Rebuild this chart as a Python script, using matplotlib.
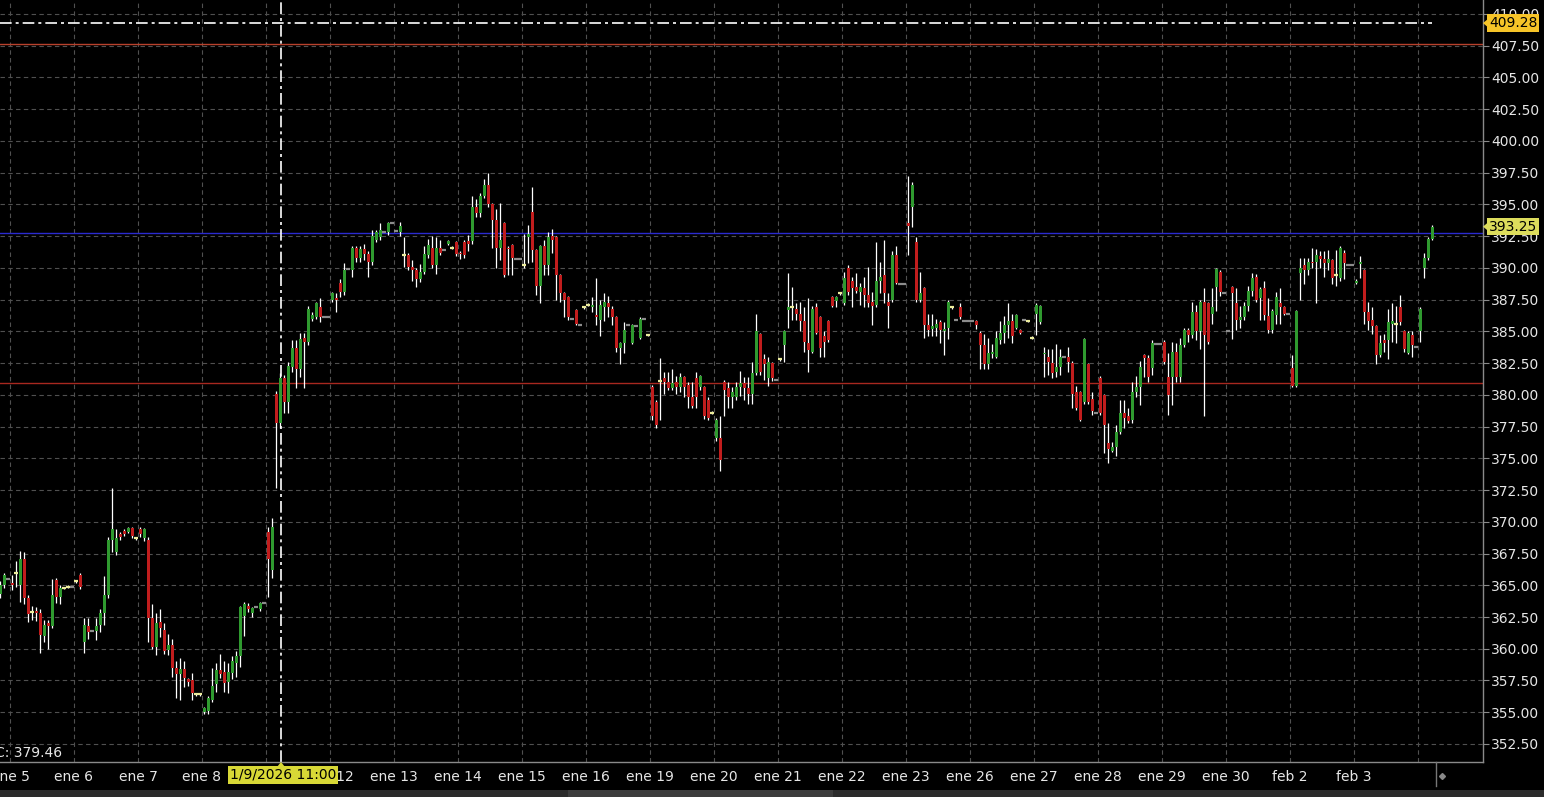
import numpy as np
import matplotlib
matplotlib.use("Agg")
import matplotlib.pyplot as plt
from matplotlib.patches import Polygon, Rectangle
from matplotlib.lines import Line2D

W, H = 1544, 797

# ------------------------------
# barre da 30 min (3 del giorno prima, 16 per giorno, 4 del 4 feb)
# ------------------------------
opens = [
    364.3, 365.0, 365.5,
    365.2, 366.0, 365.0, 367.1, 364.0, 362.9, 363.0, 362.8, 361.0, 362.0, 361.8, 365.4, 364.1, 364.8, 364.9, 364.9,
    365.3, 365.8, 360.5, 361.8, 361.4, 361.4, 361.9, 362.8, 364.2, 368.6, 367.6, 369.0, 369.3, 369.2, 369.5, 368.7,
    369.4, 368.7, 368.6, 362.4, 360.1, 362.1, 361.5, 359.9, 360.3, 358.5, 358.0, 358.4, 357.6, 357.5, 356.4, 356.4,
    355.0, 355.1, 356.0, 357.2, 358.3, 358.2, 357.4, 358.1, 358.9, 359.4, 362.6, 363.4, 362.8, 363.3, 363.1, 363.6,
    369.2, 366.2, 380.1, 377.8, 381.3, 379.4, 382.2, 383.7, 382.0, 384.5, 384.2, 386.0, 386.1, 386.9, 386.1, 386.1,
    387.5, 387.6, 388.8, 388.1, 389.9, 389.8, 391.6, 390.8, 391.5, 391.1, 390.5, 392.2, 392.4, 392.8, 392.8, 393.5,
    392.9, 392.8, 391.0, 391.0, 390.1, 389.8, 389.1, 389.7, 391.0, 391.6, 390.2, 391.6, 391.4, 391.9, 391.6, 392.0,
    391.2, 392.0, 392.1, 392.1, 394.8, 394.3, 395.7, 396.5, 395.0, 393.8, 391.6, 393.5, 391.6, 391.8, 390.7, 390.7,
    390.2, 392.4, 394.4, 391.4, 388.6, 391.7, 390.2, 392.5, 392.4, 389.4, 388.0, 387.7, 386.0, 386.7, 385.5, 386.9,
    387.1, 386.9, 386.3, 385.9, 386.9, 387.2, 386.8, 386.1, 383.7, 384.1, 385.5, 384.1, 385.4, 384.5, 386.0, 384.7,
    380.6, 379.4, 381.1, 381.3, 381.0, 380.5, 381.0, 380.6, 381.4, 380.8, 379.8, 381.3, 380.6, 380.6, 379.6, 378.6,
    376.6, 376.6, 381.0, 380.5, 379.8, 379.8, 380.6, 380.9, 380.5, 380.1, 381.7, 384.8, 382.8, 381.3, 382.5, 381.2,
    382.8, 383.9, 386.7, 386.9, 386.8, 386.4, 385.8, 384.1, 383.4, 386.9, 386.1, 384.6, 385.8, 387.7, 387.4, 388.0,
    387.2, 390.0, 389.0, 388.5, 388.1, 388.4, 387.9, 387.3, 387.1, 389.0, 389.4, 387.3, 387.5, 391.0, 388.7, 388.7,
    393.5, 394.8, 392.0, 387.5, 388.4, 385.5, 385.2, 385.3, 385.7, 385.0, 385.3, 386.9, 385.9, 386.9, 385.8, 385.8,
    385.8, 385.8, 384.9, 383.9, 382.4, 383.2, 383.0, 384.3, 384.9, 385.5, 385.8, 385.3, 385.1, 385.9, 385.8, 384.5,
    386.4, 385.7, 383.2, 383.0, 382.5, 381.8, 382.2, 383.0, 383.0, 382.5, 380.2, 380.2, 379.4, 382.4, 379.7, 378.6,
    381.3, 380.0, 376.2, 375.6, 375.9, 377.1, 378.6, 378.3, 378.0, 380.2, 380.6, 383.1, 382.9, 382.1, 384.0, 384.0,
    384.2, 381.4, 381.4, 383.4, 381.4, 383.9, 385.1, 384.7, 386.5, 385.0, 387.3, 387.2, 386.4, 388.5, 389.7, 388.0,
    385.0, 388.5, 387.2, 385.9, 386.1, 387.0, 388.2, 389.3, 387.6, 388.4, 386.2, 385.1, 386.3, 387.2, 386.9, 386.4,
    382.1, 380.7, 389.6, 390.2, 389.8, 390.5, 390.5, 390.9, 390.7, 390.4, 390.6, 389.4, 389.2, 391.2, 390.2, 390.2,
    388.8, 390.3, 389.8, 386.5, 385.9, 385.4, 383.1, 384.3, 384.3, 385.6, 385.6, 386.9, 385.0, 383.3, 384.7, 383.8,
    385.0, 390.0, 390.8, 392.3,
]
highs = [
    365.3, 366.0, 365.5,
    365.8, 366.9, 367.7, 367.6, 364.2, 363.4, 363.3, 363.1, 362.3, 362.3, 365.5, 365.6, 365.0, 364.9, 365.0, 364.9,
    365.4, 366.0, 362.4, 362.4, 361.4, 362.4, 363.1, 365.7, 368.8, 372.7, 369.4, 369.2, 369.4, 369.6, 369.6, 368.8,
    369.6, 369.5, 368.8, 363.5, 362.8, 363.1, 362.0, 361.2, 360.8, 359.0, 359.3, 359.0, 357.7, 358.1, 356.5, 356.5,
    355.4, 356.3, 358.5, 358.9, 359.6, 359.0, 358.9, 359.4, 359.8, 363.4, 363.7, 363.6, 363.3, 363.3, 363.7, 363.6,
    369.6, 370.3, 380.3, 381.7, 381.6, 382.6, 384.3, 384.3, 384.9, 384.9, 387.0, 386.5, 387.3, 387.6, 386.1, 386.1,
    388.1, 388.0, 389.1, 390.4, 389.9, 391.7, 391.7, 391.7, 391.9, 391.3, 393.0, 393.0, 393.5, 392.8, 393.6, 393.5,
    392.9, 393.6, 392.4, 391.2, 390.6, 390.0, 390.3, 391.7, 392.3, 392.5, 392.4, 392.2, 391.4, 392.2, 391.7, 392.1,
    391.3, 392.2, 392.6, 395.7, 395.4, 395.9, 397.0, 397.5, 395.1, 394.6, 395.1, 393.6, 391.7, 391.9, 390.7, 390.7,
    392.7, 393.4, 396.4, 391.5, 391.8, 392.2, 392.8, 393.1, 392.5, 389.5, 388.1, 387.8, 386.0, 386.8, 385.5, 387.0,
    387.2, 387.7, 389.2, 387.5, 388.0, 387.8, 387.0, 386.2, 384.2, 385.7, 385.5, 385.6, 385.4, 386.1, 386.0, 384.8,
    380.8, 379.6, 382.9, 381.8, 381.8, 382.0, 381.5, 381.7, 381.5, 381.0, 381.0, 381.8, 381.6, 380.7, 379.8, 378.7,
    378.2, 378.3, 381.2, 381.0, 380.6, 381.0, 381.9, 381.4, 381.4, 382.6, 386.4, 384.9, 383.2, 383.0, 382.6, 381.2,
    382.9, 385.1, 389.6, 388.5, 387.2, 387.3, 386.9, 387.6, 387.0, 387.2, 386.2, 385.0, 385.9, 387.8, 387.8, 388.1,
    389.7, 390.2, 389.3, 389.6, 388.8, 389.3, 390.1, 388.1, 392.0, 390.5, 392.2, 388.0, 391.3, 391.7, 388.7, 388.7,
    397.2, 396.8, 392.4, 389.7, 388.5, 386.4, 386.4, 386.0, 385.9, 385.7, 387.5, 387.0, 385.9, 387.2, 385.8, 385.8,
    385.8, 385.9, 385.0, 384.8, 384.5, 384.0, 385.0, 385.8, 386.2, 387.2, 386.4, 386.4, 385.2, 385.9, 385.9, 384.6,
    387.2, 387.1, 383.8, 383.6, 383.6, 384.0, 383.6, 383.0, 383.8, 382.7, 380.7, 380.3, 384.5, 382.5, 380.2, 378.6,
    381.5, 380.1, 377.8, 376.3, 377.6, 379.6, 379.6, 379.0, 381.0, 381.5, 382.7, 383.2, 383.1, 384.3, 384.0, 384.0,
    384.3, 383.3, 384.2, 384.1, 384.5, 385.3, 385.3, 387.3, 387.1, 387.5, 388.4, 387.3, 388.4, 390.0, 389.8, 388.0,
    385.0, 388.6, 388.4, 387.0, 387.3, 388.6, 389.6, 389.5, 388.5, 389.0, 387.6, 386.8, 388.1, 388.4, 387.0, 386.4,
    383.1, 386.7, 390.8, 390.8, 390.8, 391.6, 391.5, 391.3, 391.3, 391.4, 390.7, 391.4, 391.7, 391.4, 390.2, 390.2,
    389.1, 390.9, 389.9, 387.3, 386.9, 385.5, 384.7, 384.8, 386.8, 387.2, 387.0, 387.9, 385.1, 385.0, 385.0, 383.8,
    386.9, 391.2, 392.4, 393.4,
]
lows = [
    364.0, 364.8, 365.5,
    364.6, 364.9, 363.7, 363.5, 362.1, 362.3, 362.2, 359.7, 360.5, 360.0, 361.6, 363.6, 363.5, 364.7, 364.8, 364.9,
    365.2, 364.7, 359.7, 360.8, 361.4, 360.7, 361.3, 361.9, 364.0, 367.6, 367.4, 368.6, 368.9, 369.1, 368.7, 368.6,
    368.8, 368.5, 360.5, 360.0, 359.5, 360.9, 359.6, 359.5, 357.8, 356.1, 356.0, 357.0, 357.1, 356.0, 356.3, 356.3,
    354.9, 354.9, 355.8, 356.6, 357.7, 356.6, 356.5, 357.6, 357.8, 358.6, 361.0, 362.9, 362.5, 363.3, 363.0, 363.6,
    364.1, 365.6, 372.7, 377.4, 378.6, 378.6, 381.8, 380.5, 381.4, 380.5, 383.9, 385.8, 386.0, 385.7, 386.1, 386.1,
    387.3, 386.5, 387.7, 387.9, 389.9, 389.3, 390.5, 390.5, 390.6, 389.3, 390.2, 392.0, 392.2, 392.8, 392.6, 393.5,
    392.9, 392.5, 390.1, 389.8, 389.0, 388.5, 388.9, 389.5, 390.8, 390.0, 389.5, 391.0, 391.4, 391.8, 391.5, 390.9,
    390.7, 390.8, 391.3, 391.9, 394.0, 394.0, 395.5, 394.8, 391.6, 390.0, 390.6, 389.3, 389.4, 389.4, 390.7, 390.7,
    390.0, 390.4, 390.5, 387.9, 387.2, 389.4, 389.4, 391.2, 387.5, 387.3, 386.1, 385.9, 386.0, 385.5, 385.5, 386.8,
    387.0, 386.5, 385.5, 384.6, 385.8, 386.1, 385.5, 383.4, 382.4, 383.3, 385.5, 384.0, 385.4, 384.4, 386.0, 384.6,
    378.0, 377.4, 378.0, 380.1, 380.4, 380.4, 380.1, 380.2, 379.8, 379.0, 379.0, 379.0, 380.4, 378.1, 378.0, 378.5,
    376.4, 374.0, 378.3, 379.0, 379.0, 379.6, 379.9, 379.6, 379.3, 379.3, 381.6, 381.6, 381.2, 380.7, 381.1, 381.2,
    382.7, 382.6, 385.3, 385.9, 385.9, 385.0, 383.4, 381.8, 383.3, 384.8, 383.0, 383.0, 384.2, 386.9, 386.9, 387.9,
    387.1, 387.9, 386.9, 388.0, 387.1, 386.9, 386.9, 385.5, 386.9, 388.0, 387.2, 385.3, 387.3, 388.7, 388.7, 388.7,
    391.0, 393.2, 387.3, 387.3, 384.5, 384.6, 384.6, 384.6, 384.1, 383.1, 384.4, 386.8, 385.9, 386.0, 385.8, 385.8,
    385.8, 385.2, 382.0, 382.0, 382.0, 382.9, 382.9, 384.0, 384.1, 384.5, 384.1, 385.2, 384.8, 385.9, 385.7, 384.4,
    384.7, 385.6, 381.4, 381.6, 381.3, 381.4, 381.6, 383.0, 381.8, 379.0, 378.8, 377.9, 379.3, 379.3, 378.4, 378.6,
    378.4, 375.4, 374.6, 375.5, 375.2, 376.9, 377.4, 377.8, 377.8, 379.8, 379.2, 381.4, 381.0, 381.6, 384.0, 384.0,
    382.4, 378.4, 379.2, 381.0, 381.0, 383.8, 384.2, 384.5, 384.3, 383.6, 378.3, 384.0, 385.6, 386.6, 387.8, 388.0,
    385.0, 384.4, 385.1, 385.3, 385.9, 386.6, 387.8, 387.3, 385.9, 385.9, 384.9, 384.9, 385.6, 385.6, 386.3, 386.4,
    380.6, 380.6, 387.5, 388.7, 389.4, 390.0, 387.2, 390.0, 389.3, 389.8, 388.7, 388.6, 389.0, 389.1, 390.2, 390.2,
    388.7, 389.2, 385.6, 385.1, 384.8, 382.4, 383.0, 383.4, 382.8, 384.2, 384.1, 385.5, 383.4, 383.2, 383.0, 383.8,
    384.2, 389.2, 390.6, 392.2,
]
closes = [
    365.0, 365.8, 365.5,
    365.0, 366.0, 367.1, 364.0, 362.7, 362.9, 362.8, 361.1, 361.9, 361.8, 364.2, 364.1, 364.8, 364.8, 364.9, 364.9,
    365.3, 364.9, 361.9, 361.3, 361.4, 361.8, 362.8, 364.2, 368.6, 369.4, 368.7, 368.8, 369.0, 369.5, 368.9, 368.7,
    369.0, 369.4, 362.4, 360.1, 362.0, 361.6, 359.8, 360.3, 358.5, 358.0, 358.4, 357.7, 357.4, 356.5, 356.4, 356.4,
    355.3, 356.1, 357.1, 358.3, 358.0, 357.3, 358.2, 359.0, 359.4, 363.3, 363.5, 363.1, 363.2, 363.3, 363.6, 363.6,
    367.1, 369.6, 377.8, 381.3, 379.4, 382.3, 383.7, 382.0, 384.4, 384.2, 386.8, 386.3, 387.2, 386.1, 386.1, 386.1,
    388.0, 387.5, 388.1, 389.8, 389.9, 391.6, 390.8, 391.5, 391.1, 390.5, 392.5, 392.8, 393.0, 392.8, 393.5, 393.5,
    392.9, 393.3, 391.0, 390.1, 389.8, 389.1, 389.7, 391.1, 391.8, 390.2, 391.6, 391.2, 391.4, 392.1, 391.6, 391.1,
    391.1, 391.0, 391.9, 394.8, 394.3, 395.7, 396.5, 395.0, 393.8, 391.6, 392.2, 389.4, 391.5, 390.8, 390.7, 390.7,
    390.2, 392.7, 391.4, 388.6, 391.7, 390.2, 392.4, 392.2, 389.4, 388.0, 387.5, 386.1, 386.0, 385.6, 385.5, 386.9,
    387.1, 387.1, 386.1, 387.1, 387.3, 386.9, 386.1, 383.7, 384.1, 385.1, 385.5, 385.5, 385.4, 386.0, 386.0, 384.7,
    378.3, 377.6, 381.1, 381.0, 380.5, 380.9, 380.6, 381.4, 380.6, 379.8, 379.1, 379.8, 381.5, 378.3, 378.2, 378.6,
    378.0, 374.9, 380.4, 379.8, 380.2, 380.6, 380.9, 380.5, 380.1, 381.7, 385.0, 381.8, 382.4, 382.6, 381.3, 381.2,
    382.8, 385.0, 386.9, 386.9, 386.4, 385.8, 384.2, 383.5, 386.8, 384.9, 383.7, 384.2, 384.3, 387.0, 387.7, 388.0,
    389.2, 388.1, 388.4, 388.2, 388.5, 387.9, 387.2, 387.0, 389.0, 389.3, 388.0, 387.0, 391.0, 388.8, 388.7, 388.7,
    393.3, 396.5, 387.5, 388.0, 385.5, 385.1, 385.4, 385.6, 385.1, 385.2, 387.3, 386.9, 385.9, 386.1, 385.8, 385.8,
    385.8, 385.5, 383.9, 382.4, 383.3, 383.4, 384.5, 384.9, 385.5, 385.8, 384.6, 386.3, 384.9, 385.9, 385.8, 384.5,
    387.1, 387.0, 383.3, 382.6, 381.7, 382.2, 383.0, 383.0, 382.6, 380.1, 379.0, 378.0, 384.4, 379.4, 378.7, 378.6,
    378.6, 377.6, 375.7, 375.9, 377.1, 378.6, 378.2, 377.9, 380.2, 380.6, 382.2, 382.9, 381.4, 384.1, 384.0, 384.0,
    382.6, 380.0, 383.4, 381.4, 383.9, 385.1, 384.7, 386.5, 385.0, 387.3, 384.7, 384.2, 386.9, 389.9, 388.1, 388.0,
    385.0, 388.0, 385.9, 386.1, 387.0, 388.2, 389.2, 387.5, 388.3, 386.3, 385.1, 386.6, 387.7, 386.9, 386.4, 386.4,
    380.7, 386.6, 390.0, 389.8, 390.5, 390.4, 391.0, 390.7, 390.4, 390.7, 389.2, 389.4, 391.6, 390.4, 390.2, 390.2,
    389.0, 390.5, 386.5, 385.8, 385.4, 383.1, 384.1, 384.1, 385.7, 385.8, 385.6, 385.7, 383.6, 384.9, 383.9, 383.8,
    386.8, 390.8, 392.3, 393.25,
]

day_labels = ["ene 5", "ene 6", "ene 7", "ene 8", "ene 9", "ene 12", "ene 13", "ene 14", "ene 15", "ene 16",
              "ene 19", "ene 20", "ene 21", "ene 22", "ene 23", "ene 26", "ene 27", "ene 28", "ene 29", "ene 30",
              "feb 2", "feb 3"]
bars_per_day = 16
first_day_bar = 3

# livelli orizzontali
level_red_top = 407.6
level_red_low = 380.95
level_blue = 392.75
level_dashdot = 409.28
last_price = 393.25

cross_bar = 70.25
cross_label = "1/9/2026 11:00"
c_label = "C: 379.46"

o = np.array(opens)
h = np.array(highs)
l = np.array(lows)
c = np.array(closes)
assert len(o) == len(h) == len(l) == len(c), (len(o), len(h), len(l), len(c))
x = np.arange(len(c))

GREEN = "#2f9a2f"
RED = "#c11d1d"
TXT = "#e6e6e6"
GRID = "#505050"
AXC = "#8a8a8a"

plt.rcParams["font.family"] = ["DejaVu Sans"]

fig = plt.figure(figsize=(W / 100, H / 100), dpi=100, facecolor="black")
ax = fig.add_axes([0, 35 / H, 1483 / W, 762 / H])
ax.set_facecolor("black")
ax.set_xlim(0, 1483 / 4)
ax.set_ylim(351.08, 411.10)

# griglia
yticks = np.arange(352.5, 410.01, 2.5)
for yt in yticks:
    ax.axhline(yt, color=GRID, lw=0.8, ls=(0, (4, 3)), zorder=0)
day_pos = first_day_bar - 0.5 + bars_per_day * np.arange(len(day_labels) + 1)
for xp in day_pos:
    ax.axvline(xp, color=GRID, lw=0.8, ls=(0, (4, 3)), zorder=0)

ax.set_yticks(yticks)
ax.set_yticklabels([f"{v:.2f}" for v in yticks])
ax.yaxis.tick_right()
ax.tick_params(axis="y", length=4, color=AXC, labelcolor=TXT, labelsize=10, pad=2)
ax.set_xticks(day_pos[:len(day_labels)])
ax.set_xticklabels(day_labels)
ax.tick_params(axis="x", length=0, labelcolor=TXT, labelsize=10, pad=6)
for s in ["top", "left"]:
    ax.spines[s].set_visible(False)
for s in ["bottom", "right"]:
    ax.spines[s].set_color(AXC)
    ax.spines[s].set_linewidth(1)

# livelli
ax.axhline(level_red_top, color="#b8412c", lw=1, zorder=1)
ax.axhline(level_red_low, color="#a8281f", lw=1, zorder=1)
ax.axhline(level_blue, color="#2a2ad0", lw=1, zorder=1)
ax.hlines(level_dashdot, 0, x[-1], colors="white", lw=1.2, linestyles=(0, (7, 2.4, 1.8, 2.4)), zorder=1)
ax.axvline(cross_bar, color="white", lw=1.2, ls=(0, (7, 2.4, 1.8, 2.4)), zorder=1)

# candele
rng = h > l
ax.vlines(x[rng], l[rng], h[rng], color="white", lw=0.9, zorder=2)
up = c > o
dn = c < o
flat = c == o
ax.bar(x[up], (c - o)[up], bottom=o[up], width=0.75, color=GREEN, lw=0, zorder=3)
ax.bar(x[dn], (o - c)[dn], bottom=c[dn], width=0.75, color=RED, lw=0, zorder=3)
doji_col = np.where(rng[flat], "#ecec9c", "#8c8c8c")
ax.hlines(c[flat], x[flat] - 0.45, x[flat] + 0.45, colors=list(doji_col), lw=1.6, zorder=3)


def fpx(px, py):
    # pixel (dall'alto) -> frazione di figura
    return px / W, 1 - py / H


def price_tag(price, text, fc):
    ypix = H - ax.transData.transform((0, price))[1]
    fig.text(*fpx(1489, ypix), text, ha="left", va="center", fontsize=10, color="black",
             bbox=dict(boxstyle="square,pad=0.12", fc=fc, ec="none"), zorder=5)
    tri = Polygon([fpx(1483, ypix), fpx(1489, ypix - 5), fpx(1489, ypix + 5)], closed=True,
                  transform=fig.transFigure, fc=fc, ec="none", zorder=5)
    fig.patches.append(tri)


price_tag(level_dashdot, f"{level_dashdot:.2f}", "#f6c428")
price_tag(last_price, f"{last_price:.2f}", "#dcdc5c")

# etichetta data del cursore
cx = ax.transData.transform((cross_bar, 0))[0]
fig.text(*fpx(cx + 2, 775), cross_label, ha="center", va="center", fontsize=10, color="black",
         bbox=dict(boxstyle="square,pad=0.12", fc="#d8d836", ec="none"), zorder=5)
fig.patches.append(Polygon([fpx(cx - 4, 767), fpx(cx + 4, 767), fpx(cx, 762)], closed=True,
                           transform=fig.transFigure, fc="#d8d836", ec="none", zorder=5))

fig.text(*fpx(-5, 753), c_label, ha="left", va="center", fontsize=10, color=TXT, zorder=5)

# barra di scorrimento in basso
fig.patches.append(Rectangle((0, 0), 1, 7 / H, transform=fig.transFigure, fc="#2b2b2b", ec="none"))
fig.patches.append(Rectangle((568 / W, 0), 265 / W, 7 / H, transform=fig.transFigure, fc="#3c3c3c", ec="none"))

# marcatore fine dati
fig.add_artist(Line2D([1436 / W, 1436 / W], [1 - 762 / H, 1 - 786 / H], color="#777777", lw=1,
                      transform=fig.transFigure))
fig.add_artist(Line2D([1442 / W], [1 - 776 / H], marker="D", markersize=3, color="#888888", lw=0,
                      transform=fig.transFigure))

fig.savefig("out.png", dpi=100, facecolor="black")
